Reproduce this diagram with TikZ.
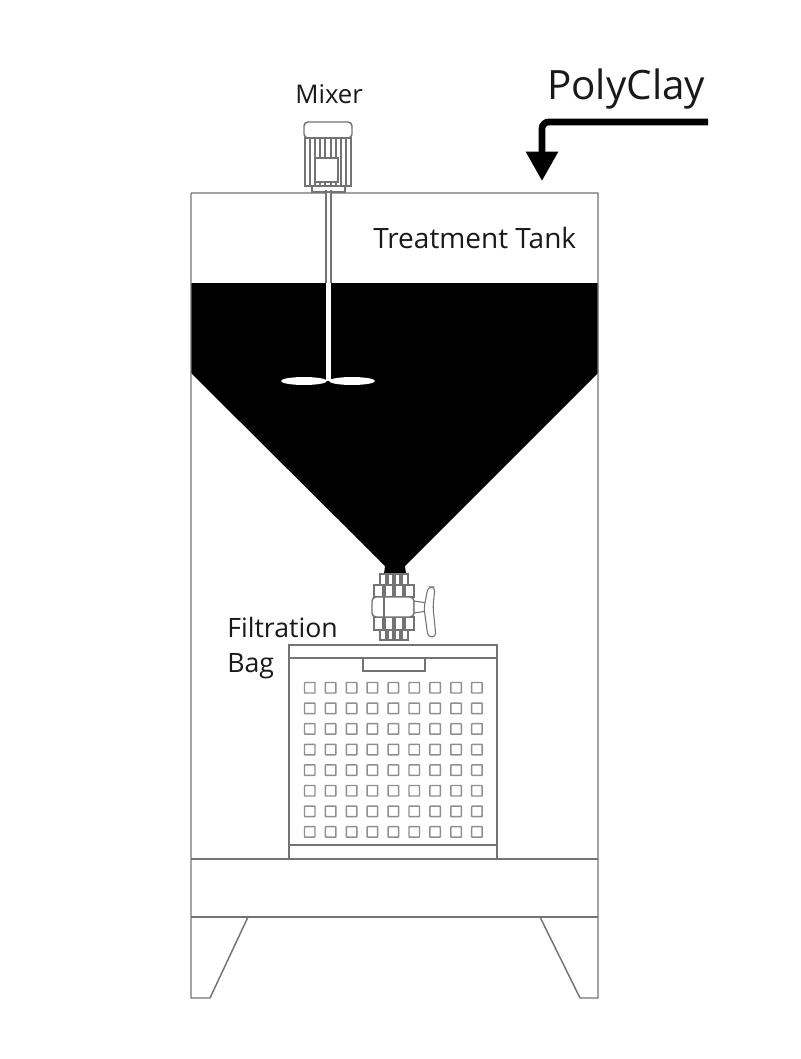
\documentclass[tikz,border=0pt]{standalone}
\usepackage{fontspec}
\setmainfont{Open Sans}
\usetikzlibrary{arrows.meta}
\definecolor{framegray}{gray}{0.45}
\tikzset{
	frameline/.style={draw=framegray,line width=1.1pt},
	thinline/.style={draw=framegray,line width=0.8pt},
	holebox/.style={draw=framegray!80,line width=1.1pt,rounded corners=0.4pt},
	label/.style={inner sep=0pt,anchor=base west,text=black!90},
	feedline/.style={draw=black,line width=5pt,rounded corners=5pt,-{Triangle[width=23pt,length=22pt]}}
}
\begin{document}
\begin{tikzpicture}[x=0.75pt,y=-0.75pt]
	\useasboundingbox (0,0) rectangle (800,1059);
	% liquid
	\fill[black] (191,283) -- (598,283) -- (598,373) -- (405,566) -- (406,574) -- (384,574) -- (385,566) -- (191,373) -- cycle;
	% tank, base and legs
	\draw[frameline] (191,193) -- (598,193) -- (598,998) -- (580,998) -- (540,917);
	\draw[frameline] (191,193) -- (191,998) -- (210,998) -- (248,917);
	\draw[frameline] (191,859) -- (598,859);
	\draw[frameline] (191,917) -- (598,917);
	% mixer shaft and blades
	\fill[white] (326,190) rectangle (331,381);
	\draw[thinline] (326,190) -- (326,283);
	\draw[thinline] (331,190) -- (331,283);
	\fill[white] (304,381) ellipse (23 and 4);
	\fill[white] (352,381) ellipse (23 and 4);
	% motor
	\draw[frameline,fill=white,rounded corners=3pt] (304,138) -- (304,122) -- (352,122) -- (352,138) -- cycle;
	\draw[frameline,fill=white] (305,138) rectangle (351,186);
	\foreach \x in {310,315,320,325,331,336,341,346}
	{
		\draw[thinline] (\x,138) -- (\x,186);
	}
	\draw[frameline,fill=white] (315,158) rectangle (338,182);
	\draw[thinline] (312,186) rectangle (345,192);
	% valve
	\foreach \ya/\yb/\xa/\xb in {574/585/380/408,585/597/374/414,617/630/374/414,630/640/380/408}
	{
		\draw[frameline,fill=white] (\xa,\ya) rectangle (\xb,\yb);
		\foreach \x in {1,2,3}
		{
			\draw[frameline,line width=2.5pt] ({\xa+(\xb-\xa)*\x/4},\ya) -- ({\xa+(\xb-\xa)*\x/4},\yb);
		}
	}
	\draw[frameline,fill=white,rounded corners=3pt] (372,597) rectangle (414,617);
	\draw[thinline] (384,597) -- (384,617);
	\draw[thinline,fill=white] (414,601) -- (427,603) -- (427,611) -- (414,613) -- cycle;
	\draw[thinline,fill=white,rounded corners=3pt] (428,587) -- (435,587) -- (433,607) -- (436,637) -- (428,637) -- (424,608) -- cycle;
	% bag
	\draw[frameline,fill=white] (289,645) rectangle (497,859);
	\draw[frameline] (289,658) -- (497,658);
	\draw[thinline] (289,845) -- (497,845);
	\draw[thinline] (363,659) -- (363,671) -- (425,671) -- (425,659);
	\foreach \i in {0,...,8}
	{
		\foreach \j in {0,...,7}
		{
			\draw[holebox] ({304.5+\i*20.9},{682.5+\j*20.6}) rectangle ++(10.5,10.5);
		}
	}
	% labels
	\node[label,font=\fontsize{19.3}{21}\selectfont] (mixer) at (295,104) {Mixer};
	\node[label,font=\fontsize{21}{23}\selectfont] (tank) at (373,248) {Treatment Tank};
	\node[label,font=\fontsize{30.3}{32}\selectfont] (polyclay) at (547,100) {PolyClay};
	\node[label,font=\fontsize{20}{22}\selectfont] (filtration) at (227,637) {Filtration};
	\node[label,font=\fontsize{20}{22}\selectfont] (bag) at (227,672) {Bag};
	% feed arrow
	\coordinate (feedstart) at (708,122);
	\coordinate (feedend) at (542,181);
	\draw[feedline] (feedstart) -| (feedend);
\end{tikzpicture}
\end{document}
